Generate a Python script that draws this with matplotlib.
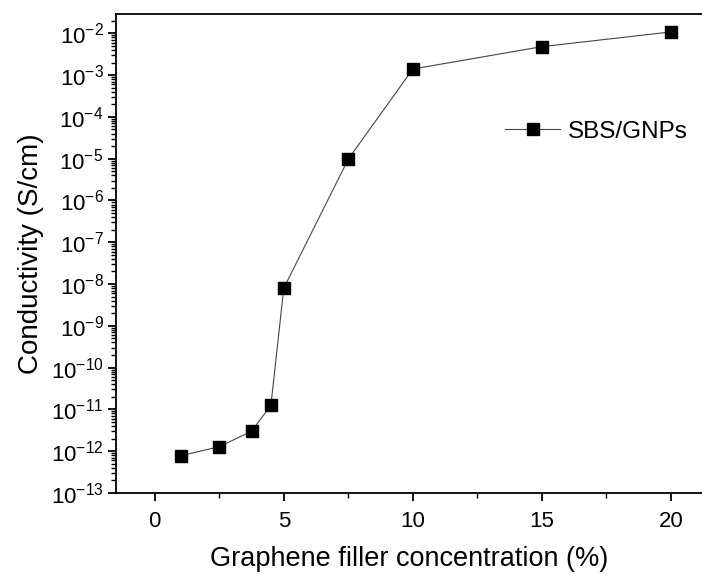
import numpy as np
import matplotlib
matplotlib.use("Agg")
import matplotlib.pyplot as plt
from matplotlib.ticker import MultipleLocator, LogLocator, NullFormatter

plt.rcParams["font.family"] = ["Liberation Sans", "DejaVu Sans"]
plt.rcParams["mathtext.fontset"] = "custom"
plt.rcParams["mathtext.rm"] = "Liberation Sans"
plt.rcParams["mathtext.it"] = "Liberation Sans:italic"

# data
conc = [1, 2.5, 3.75, 4.5, 5, 7.5, 10, 15, 20]
cond = [7.8e-13, 1.28e-12, 3.0e-12, 1.25e-11, 8e-9, 9.8e-6, 1.4e-3, 4.8e-3, 1.08e-2]
series_label = "SBS/GNPs"

fig = plt.figure(figsize=(7.02, 5.75), dpi=100)
ax = fig.add_axes([116 / 702, 82 / 575, 586 / 702, 479 / 575])

ax.plot(conc, cond, color="#444444", linewidth=0.8, marker="s",
        markersize=8, markerfacecolor="black", markeredgecolor="black",
        label=series_label)

ax.set_yscale("log")
ax.set_xlim(-1.5, 21.2)
ax.set_ylim(1e-13, 2.9e-2)

ax.xaxis.set_major_locator(MultipleLocator(5))
ax.xaxis.set_minor_locator(MultipleLocator(2.5))
ax.yaxis.set_major_locator(LogLocator(base=10, numticks=20))
ax.yaxis.set_minor_locator(LogLocator(base=10, subs=np.arange(2, 10), numticks=100))
ax.yaxis.set_minor_formatter(NullFormatter())

ax.tick_params(which="major", direction="out", length=6, width=1.3, labelsize=16)
ax.tick_params(which="minor", direction="out", length=3.5, width=1.0)
ax.tick_params(axis="x", pad=7)
ax.tick_params(axis="y", pad=3)

ax.spines["right"].set_visible(False)
for s in ["left", "bottom", "top"]:
    ax.spines[s].set_linewidth(1.3)

ax.set_xlabel("Graphene filler concentration (%)", fontsize=19.5, labelpad=10)
ax.set_ylabel("Conductivity (S/cm)", fontsize=20, labelpad=5)

ax.legend(loc="center left", bbox_to_anchor=(0.664, 0.754), frameon=False,
          fontsize=17.5, handlelength=2.26, handletextpad=0.33,
          borderpad=0, borderaxespad=0)

fig.savefig("out.png", dpi=100)
